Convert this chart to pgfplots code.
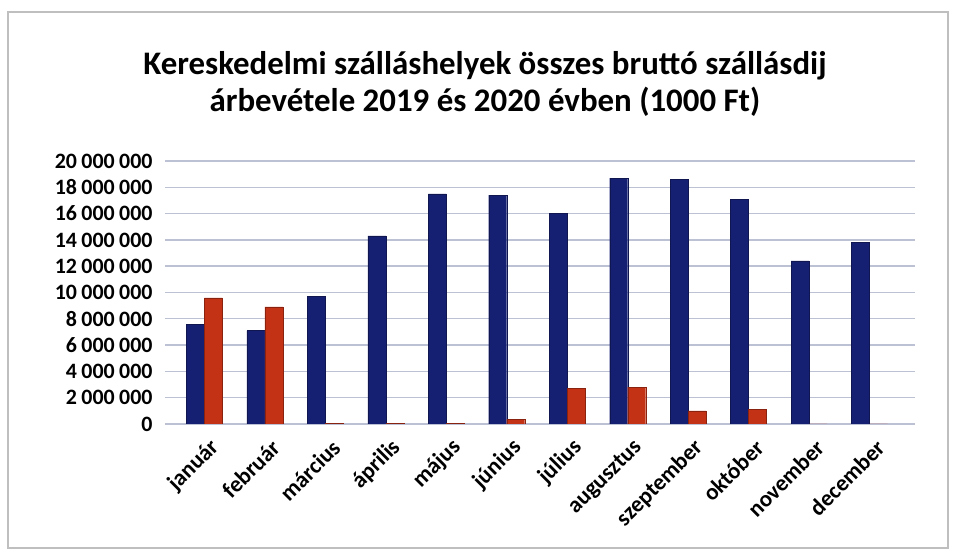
\documentclass[border=0pt]{standalone}
\usepackage{fontspec}
\setmainfont{Carlito}
\usepackage{pgfplots}
\pgfplotsset{compat=1.18}

\definecolor{bar19}{RGB}{22,32,115}
\definecolor{bar20}{RGB}{196,50,22}
\definecolor{gridc}{RGB}{188,193,212}

% monthly revenue, 1000 Ft
\pgfplotstableread{
x y2019 y2020
0 7600000 9600000
1 7100000 8900000
2 9700000 50000
3 14300000 30000
4 17500000 50000
5 17400000 350000
6 16000000 2700000
7 18700000 2800000
8 18600000 1000000
9 17100000 1100000
10 12400000 0
11 13800000 0
}\revenue

\begin{document}
\begin{tikzpicture}[x=1bp,y=1bp]
\path[use as bounding box] (0,0) rectangle (953,551);
\draw[gray!50, line width=1.5bp] (8,3) rectangle (948,539);
\node[font=\fontsize{33}{38}\selectfont\bfseries, align=center] at (485,467)
  {Kereskedelmi szálláshelyek összes bruttó szállásdij\\árbevétele 2019 és 2020 évben (1000 Ft)};
\begin{axis}[
    at={(165bp,127bp)}, anchor=south west,
    scale only axis,
    width=750bp, height=263bp,
    ybar=0pt,
    bar width=18bp,
    xmin=-0.65, xmax=11.75,
    ymin=0, ymax=20000000,
    ytick={0,2000000,...,20000000},
    scaled y ticks=false,
    xtick=data,
    xticklabels={január,február,március,április,május,június,július,augusztus,szeptember,október,november,december},
    axis line style={draw=none},
    major tick length=0pt,
    ymajorgrids,
    grid style={gridc, line width=1.4bp},
    /pgf/number format/.cd, fixed, assume math mode=true, 1000 sep={\hspace{0.2em}},
    /pgfplots/.cd,
    yticklabel style={font=\fontsize{22}{24}\selectfont\bfseries, xshift=-9bp},
    xticklabel style={font=\fontsize{23}{24}\selectfont\bfseries, rotate=45, anchor=east, xshift=-3bp, yshift=-22bp},
]
\addplot[fill=bar19, draw=bar19!70!black] table[x=x, y=y2019] {\revenue};
\addplot[fill=bar20, draw=bar20!70!black] table[x=x, y=y2020] {\revenue};
\end{axis}
\end{tikzpicture}
\end{document}
